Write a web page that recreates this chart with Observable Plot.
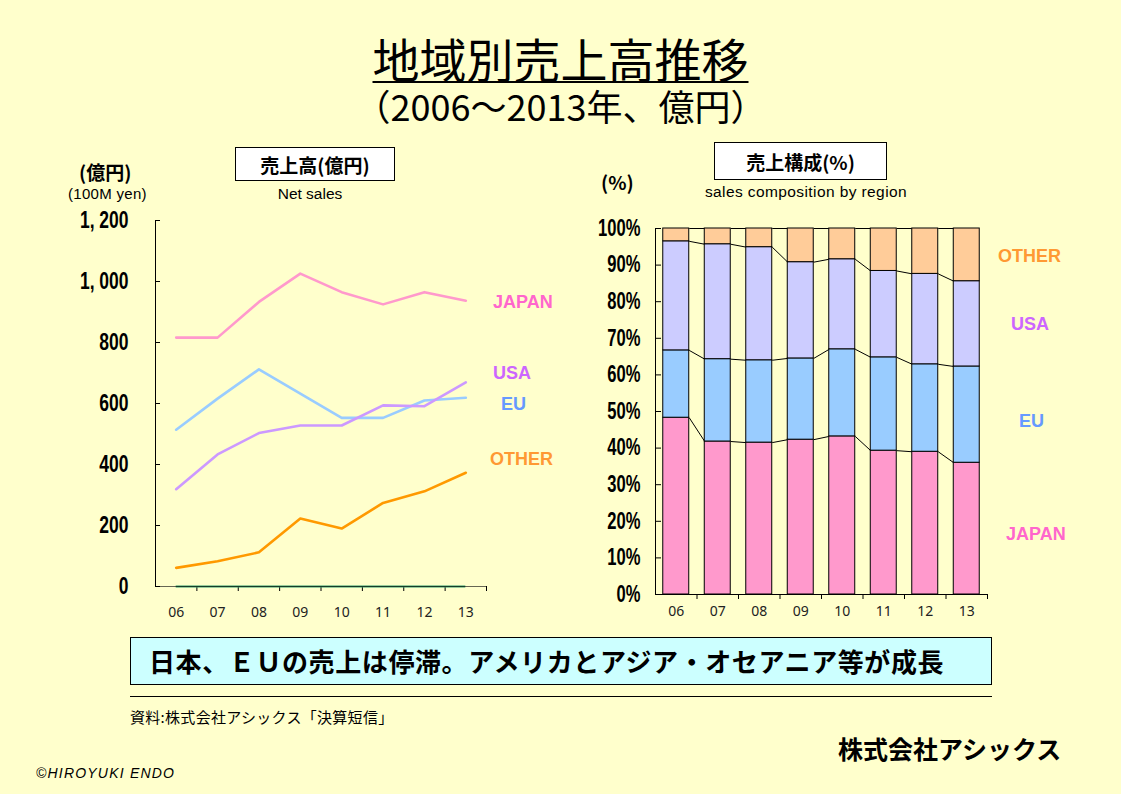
<!DOCTYPE html>
<html><head><meta charset="utf-8">
<script src="https://cdn.jsdelivr.net/npm/d3@7"></script>
<script src="https://cdn.jsdelivr.net/npm/@observablehq/plot@0.6"></script>
<style>
html,body{margin:0;padding:0;background:#FFFFCC;}
#page{position:relative;width:1121px;height:794px;overflow:hidden;background:#FFFFCC;font-family:"Liberation Sans",Arial,sans-serif;color:#000;}
.abs{position:absolute;white-space:nowrap;line-height:1;}
.cjk{font-family:"Noto Sans CJK JP","Noto Sans",sans-serif;}
.lbl{font-family:"Liberation Sans",Arial,sans-serif;font-weight:bold;font-size:18px;transform:translateY(-50%);}
.box{position:absolute;box-sizing:border-box;border:1px solid #000;background:#fff;display:flex;align-items:center;justify-content:center;line-height:1;}
#left,#right{position:absolute;}
</style></head>
<body>
<div id="page">
  <div class="abs cjk" style="left:0;width:1121px;text-align:center;top:34px;height:48px;font-size:47px;text-decoration:underline;text-decoration-thickness:2px;text-underline-offset:3px;">地域別売上高推移</div>
  <div class="abs cjk" style="left:0;width:1121px;text-align:center;top:87px;height:36px;font-size:36px;">（2006～2013年、億円）</div>

  <div class="abs cjk" style="left:79px;top:162px;font-size:19px;font-weight:bold;">(億円)</div>
  <div class="abs" style="left:68px;top:186px;font-size:15px;letter-spacing:0.3px;">(100M yen)</div>
  <div class="box cjk" style="left:235px;top:147px;width:160px;height:34px;font-size:19px;font-weight:bold;">売上高(億円)</div>
  <div class="abs" style="left:250px;width:120px;text-align:center;top:186px;font-size:15.5px;">Net sales</div>

  <div class="abs cjk" style="left:601px;top:172px;font-size:19px;font-weight:bold;">(%)</div>
  <div class="box cjk" style="left:714px;top:142px;width:173px;height:38px;font-size:19px;font-weight:bold;">売上構成(%)</div>
  <div class="abs" style="left:690px;width:232px;text-align:center;top:184px;font-size:15.5px;letter-spacing:0.4px;">sales composition by region</div>

  <div id="left" style="left:0;top:200px;"></div>
  <div id="right" style="left:560px;top:200px;"></div>

  <div class="abs lbl" style="left:493px;top:302px;color:#FF66CC;">JAPAN</div>
  <div class="abs lbl" style="left:493px;top:373px;color:#CC66FF;">USA</div>
  <div class="abs lbl" style="left:501px;top:404px;color:#6699FF;">EU</div>
  <div class="abs lbl" style="left:490px;top:459px;color:#FF9933;">OTHER</div>

  <div class="abs lbl" style="left:998px;top:256px;color:#FF9933;">OTHER</div>
  <div class="abs lbl" style="left:1011px;top:324px;color:#CC66FF;">USA</div>
  <div class="abs lbl" style="left:1019px;top:421px;color:#6699FF;">EU</div>
  <div class="abs lbl" style="left:1006px;top:534px;color:#FF66CC;">JAPAN</div>

  <div class="box cjk" style="left:130px;top:637px;width:862px;height:48px;background:#CCFFFF;justify-content:flex-start;padding-left:18px;font-size:26px;letter-spacing:0.6px;font-weight:bold;">日本、ＥＵの売上は停滞。アメリカとアジア・オセアニア等が成長</div>
  <div class="abs" style="left:130px;top:696px;width:862px;height:1px;background:#000;"></div>
  <div class="abs cjk" style="left:130px;top:709px;font-size:15px;letter-spacing:0.3px;">資料:株式会社アシックス「決算短信」</div>
  <div class="abs cjk" style="left:838px;top:736px;font-size:25px;font-weight:bold;">株式会社アシックス</div>
  <div class="abs" style="left:36px;top:766px;font-size:14px;font-style:italic;letter-spacing:1.2px;">©HIROYUKI ENDO</div>
</div>
<script>
// ---- data ----
const years = ["06","07","08","09","10","11","12","13"];
const regions = ["JAPAN","EU","USA","OTHER"];
const salesJapan = [816, 816, 933, 1026, 965, 925, 965, 937];
const salesEU    = [514, 616, 712, 632, 553, 553, 610, 619];
const salesUSA   = [319, 433, 503, 528, 528, 594, 591, 669];
const salesOther = [61, 83, 112, 223, 190, 274, 312, 373];
const shareJapan = [48.3, 41.8, 41.5, 42.3, 43.2, 39.3, 39.0, 36.0];
const shareEU    = [18.4, 22.5, 22.5, 22.2, 23.8, 25.5, 23.9, 26.3];
const shareUSA   = [29.8, 31.4, 30.9, 26.3, 24.6, 23.6, 24.7, 23.3];
const shareOther = [3.5, 4.3, 5.1, 9.2, 8.4, 11.6, 12.4, 14.4];
const salesTicks = [0, 200, 400, 600, 800, 1000, 1200];
const shareTicks = [0, 10, 20, 30, 40, 50, 60, 70, 80, 90, 100];

const salesBy = {JAPAN: salesJapan, EU: salesEU, USA: salesUSA, OTHER: salesOther};
const shareBy = {JAPAN: shareJapan, EU: shareEU, USA: shareUSA, OTHER: shareOther};
const idx = d3.range(years.length);
const xDomain = [-0.5, years.length - 0.5];
const boundaries = idx.map(i => i + 0.5);
const numFont = '"Liberation Sans",Arial,sans-serif';

// condense the bold tick numbers horizontally, like the reference's narrow digits
function condense(svg, factor) {
  d3.select(svg).selectAll('g[aria-label="y-axis tick label"] text').each(function() {
    const w = this.getComputedTextLength();
    this.setAttribute("textLength", (w * factor).toFixed(1));
    this.setAttribute("lengthAdjust", "spacingAndGlyphs");
  });
}

// ---- left: line chart ----
const salesRows = regions.flatMap(r => idx.map(i => ({region: r, i, value: salesBy[r][i]})));
const LW = 560, LH = 420, LML = 155, LMR = 74, LMT = 20, LMB = 34;
const left = Plot.plot({
  width: LW, height: LH, marginLeft: LML, marginRight: LMR, marginTop: LMT, marginBottom: LMB,
  style: {background: "transparent", overflow: "visible"},
  x: {type: "linear", domain: xDomain, axis: null},
  y: {domain: [0, 1200], axis: null},
  color: {domain: regions, range: ["#FF99CC", "#99CCFF", "#CC99FF", "#FF9900"]},
  marks: [
    Plot.axisY(salesTicks, {label: null, tickSize: 0, tickPadding: 27, fontSize: 23, fontWeight: "bold", fontFamily: numFont, fill: "#000",
      tickFormat: d => d3.format(",")(d).replace(",", ", ")}),
    Plot.tickY(salesTicks, {y: d => d, stroke: "#000", insetRight: LW - LML - LMR - 5}),
    Plot.axisX(boundaries, {label: null, tickSize: 5, stroke: "#000", text: null}),
    Plot.axisX(idx, {label: null, tickSize: 0, tickPadding: 21, fontSize: 14, fill: "#222", tickFormat: i => years[i]}),
    Plot.ruleY([0], {x1: 0, x2: years.length - 1, stroke: "#339966", strokeWidth: 2}),
    Plot.line(salesRows, {x: "i", y: "value", z: "region", stroke: "region", strokeWidth: 2.6}),
    Plot.ruleX([xDomain[0]], {stroke: "#000"}),
    Plot.ruleY([0], {stroke: "#000", strokeOpacity: 0.6})
  ]
});
document.getElementById("left").appendChild(left);
condense(left, 0.76);

// ---- right: 100% stacked bars ----
const hw = 0.313;
const shareRows = [];
const tops = {};
regions.forEach(r => tops[r] = []);
idx.forEach(i => {
  let c = 0;
  regions.forEach(r => {
    const v = shareBy[r][i];
    shareRows.push({region: r, i, y1: c, y2: c + v});
    c += v;
    tops[r].push(c);
  });
});
const links = regions.flatMap(r => d3.range(years.length - 1).map(i => ({region: r, x1: i + hw, x2: i + 1 - hw, y1: tops[r][i], y2: tops[r][i + 1]})));
const RW = 561, RH = 420, RML = 95, RMR = 134, RMT = 28, RMB = 26;
const right = Plot.plot({
  width: RW, height: RH, marginLeft: RML, marginRight: RMR, marginTop: RMT, marginBottom: RMB,
  style: {background: "transparent", overflow: "visible"},
  x: {type: "linear", domain: xDomain, axis: null},
  y: {domain: [0, 100], axis: null},
  color: {domain: regions, range: ["#FF99CC", "#99CCFF", "#CCCCFF", "#FFCC99"]},
  marks: [
    Plot.axisY(shareTicks, {label: null, tickSize: 0, tickPadding: 15, fontSize: 23, fontWeight: "bold", fontFamily: numFont, fill: "#000",
      tickFormat: d => d + "%"}),
    Plot.tickY(shareTicks, {y: d => d, stroke: "#000", insetRight: RW - RML - RMR - 6}),
    Plot.axisX(boundaries, {label: null, tickSize: 5, stroke: "#000", text: null}),
    Plot.axisX(idx, {label: null, tickSize: 0, tickPadding: 12, fontSize: 14, fill: "#222", tickFormat: i => years[i]}),
    Plot.link(links, {x1: "x1", x2: "x2", y1: "y1", y2: "y2", stroke: "#000", strokeWidth: 1}),
    Plot.rectY(shareRows, {x1: d => d.i - hw, x2: d => d.i + hw, y1: "y1", y2: "y2", fill: "region", stroke: "#000", strokeWidth: 1}),
    Plot.ruleX([xDomain[0]], {stroke: "#000"}),
    Plot.ruleY([0], {stroke: "#000"})
  ]
});
document.getElementById("right").appendChild(right);
condense(right, 0.72);
</script>
</body></html>
